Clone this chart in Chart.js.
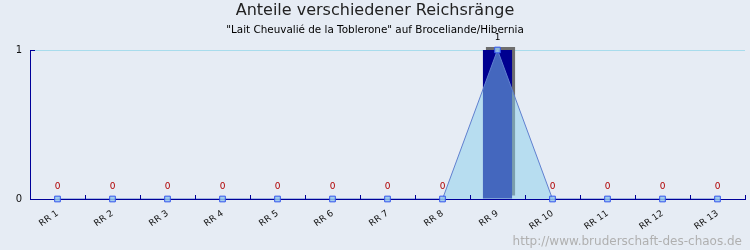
<!DOCTYPE html>
<html><head><meta charset="utf-8">
<script src="https://cdn.jsdelivr.net/npm/chart.js@4/dist/chart.umd.min.js"></script>
<style>html,body{margin:0;padding:0;background:#e6ecf4;}canvas{display:block;}</style>
</head><body>
<canvas id="c" width="750" height="250"></canvas>
<script>
const categories = ["RR 1","RR 2","RR 3","RR 4","RR 5","RR 6","RR 7","RR 8","RR 9","RR 10","RR 11","RR 12","RR 13"];
const shares = [0,0,0,0,0,0,0,0,1,0,0,0,0];
const yTicks = [0,1];
const titleText = "Anteile verschiedener Reichsränge";
const subtitleText = "\"Lait Cheuvalié de la Toblerone\" auf Broceliande/Hibernia";
const watermark = "http://www.bruderschaft-des-chaos.de";

const FONT = "'DejaVu Sans', sans-serif";

const decor = {
  id: 'decor',
  beforeDraw(chart) {
    const ctx = chart.ctx;
    ctx.save();
    ctx.fillStyle = '#e6ecf4';
    ctx.fillRect(0, 0, chart.width, chart.height);
    ctx.restore();
  },
  beforeDatasetDraw(chart, args) {
    if (args.index === 0) {
      const ctx = chart.ctx;
      ctx.save();
      ctx.shadowColor = '#6e6e6e';
      ctx.shadowBlur = 0;
      ctx.shadowOffsetX = 3;
      ctx.shadowOffsetY = -3;
    }
  },
  afterDatasetDraw(chart, args) {
    if (args.index === 0) chart.ctx.restore();
    if (args.index === 1) {
      const ctx = chart.ctx, a = chart.chartArea;
      ctx.save();
      ctx.strokeStyle = '#000099';
      ctx.lineWidth = 1;
      ctx.beginPath();
      const yb = Math.round(a.bottom) + 0.5;
      const xl = Math.round(a.left) + 0.5;
      ctx.moveTo(xl, yb); ctx.lineTo(a.right, yb);
      ctx.stroke();
      ctx.restore();
    }
  },
  afterDraw(chart) {
    const ctx = chart.ctx;
    const xs = chart.scales.x, ys = chart.scales.y;
    const a = chart.chartArea;
    ctx.save();
    ctx.textAlign = 'center';
    ctx.textBaseline = 'middle';
    ctx.fillStyle = '#222';
    ctx.font = '16px ' + FONT;
    ctx.fillText(titleText, 375, 11);
    ctx.font = '10.4px ' + FONT;
    ctx.fillStyle = '#000';
    ctx.fillText(subtitleText, 375, 30);
    ctx.textAlign = 'right';
    ctx.textBaseline = 'alphabetic';
    ctx.font = '12px ' + FONT;
    ctx.fillStyle = '#b0b0b0';
    ctx.fillText(watermark, 742, 245);
    ctx.strokeStyle = '#000099';
    ctx.lineWidth = 1;
    const w = (xs.getPixelForValue(1) - xs.getPixelForValue(0));
    ctx.beginPath();
    for (let i = 0; i <= categories.length; i++) {
      const x = Math.round(xs.getPixelForValue(i) - w / 2) + 0.5;
      ctx.moveTo(x, a.bottom);
      ctx.lineTo(x, a.bottom - 4);
    }
    const y1 = Math.round(ys.getPixelForValue(1)) + 0.5;
    ctx.moveTo(a.left, y1);
    ctx.lineTo(a.left + 5, y1);
    ctx.stroke();
    ctx.textAlign = 'center';
    ctx.textBaseline = 'middle';
    ctx.font = '9px ' + FONT;
    shares.forEach((v, i) => {
      const x = xs.getPixelForValue(i);
      const y = ys.getPixelForValue(v);
      ctx.fillStyle = v === 0 ? '#b00000' : '#000';
      ctx.fillText(String(v), x, y - 12);
    });
    ctx.restore();
  }
};

new Chart(document.getElementById('c'), {
  data: {
    labels: categories,
    datasets: [
      {
        type: 'bar',
        data: shares,
        backgroundColor: '#000090',
        borderWidth: 0,
        categoryPercentage: 1,
        barPercentage: 0.53,
        clip: false,
        order: 3
      },
      {
        type: 'line',
        data: shares,
        borderColor: '#6080d0',
        borderWidth: 1,
        fill: 'origin',
        backgroundColor: 'rgba(135,206,235,0.5)',
        tension: 0,
        pointRadius: 0,
        clip: false,
        order: 2
      },
      {
        type: 'line',
        data: shares,
        showLine: false,
        fill: false,
        pointStyle: 'rect',
        pointRadius: 4,
        pointBackgroundColor: 'rgba(150,200,235,0.85)',
        pointBorderColor: '#3355ee',
        pointBorderWidth: 1,
        clip: false,
        order: 1
      }
    ]
  },
  options: {
    responsive: false,
    animation: false,
    devicePixelRatio: 1,
    layout: { padding: { top: 50, right: 5, left: 0, bottom: 0 } },
    plugins: { legend: { display: false }, tooltip: { enabled: false }, title: { display: false } },
    scales: {
      x: {
        offset: true,
        grid: { display: false, drawTicks: false },
        border: { display: true, color: '#000099', width: 1 },
        ticks: {
          autoSkip: false, maxRotation: 35, minRotation: 35, padding: 9,
          color: '#111', font: { family: FONT, size: 9 }
        },
        afterFit(s) { s.height = 51; }
      },
      y: {
        min: 0, max: 1,
        afterBuildTicks(s) { s.ticks = yTicks.map(v => ({ value: v })); },
        grid: {
          drawTicks: false,
          color: (c) => (c.tick && c.tick.value === 1) ? '#a8dcec' : 'rgba(0,0,0,0)'
        },
        border: { display: true, color: '#000099', width: 1 },
        ticks: { padding: 8, color: '#111', font: { family: FONT, size: 10 } },
        afterFit(s) { s.width = 30; }
      }
    }
  },
  plugins: [decor]
});
</script>
</body></html>
